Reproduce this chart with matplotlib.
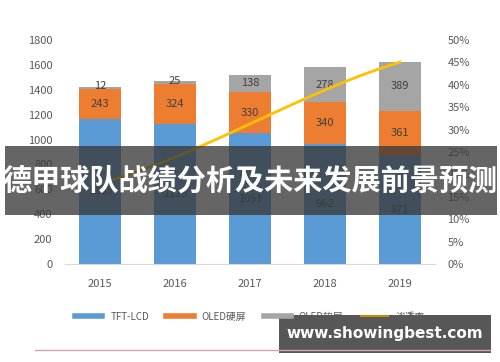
import numpy as np
import matplotlib.pyplot as plt
from matplotlib.lines import Line2D
from matplotlib.patches import Rectangle

plt.rcParams['font.family'] = ['Noto Sans CJK SC', 'DejaVu Sans']

years = ['2015', '2016', '2017', '2018', '2019']
tft_lcd = [1165, 1125, 1051, 962, 871]
oled_rigid = [243, 324, 330, 340, 361]
oled_flex = [12, 25, 138, 278, 389]
penetration = [18, 24, 31, 39, 45]   # %

c_blue, c_orange, c_gray, c_gold = '#5B9BD5', '#ED7D31', '#A5A5A5', '#FFC000'
txt = '#595959'

fig = plt.figure(figsize=(5, 3.62), dpi=100)
ax = fig.add_axes([0.13, 0.2707, 0.74, 0.619])
x = np.arange(len(years))
w = 0.57

ax.bar(x, tft_lcd, w, color=c_blue)
bot2 = np.array(tft_lcd)
ax.bar(x, oled_rigid, w, bottom=bot2, color=c_orange)
bot3 = bot2 + np.array(oled_rigid)
ax.bar(x, oled_flex, w, bottom=bot3, color=c_gray)

for i in range(len(x)):
    ax.text(x[i], tft_lcd[i] / 2, str(tft_lcd[i]), ha='center', va='center', fontsize=8, color='#404040')
    ax.text(x[i], bot2[i] + oled_rigid[i] / 2, str(oled_rigid[i]), ha='center', va='center', fontsize=8, color='#404040')
    ax.text(x[i], bot3[i] + oled_flex[i] / 2 if oled_flex[i] > 60 else bot3[i] + 20,
            str(oled_flex[i]), ha='center', va='center', fontsize=8, color='#404040')

ax.set_xlim(-0.467, 4.467)
ax.set_ylim(0, 1800)
ax.set_yticks(range(0, 1801, 200))
ax.set_xticks(x)
ax.set_xticklabels(years)
for s in ['top', 'right', 'left']:
    ax.spines[s].set_visible(False)
ax.spines['bottom'].set_color('#D9D9D9')
ax.tick_params(length=0, colors=txt, labelsize=8)
ax.tick_params(axis='y', pad=9)
ax.tick_params(axis='x', pad=11)

ax2 = ax.twinx()
xs = np.linspace(0, 4, 200)
# smooth curve through the points
coef = np.polyfit(x, penetration, 3)
ax2.plot(xs, np.polyval(coef, xs), color=c_gold, lw=2)
ax2.set_ylim(0, 50)
ax2.set_yticks(range(0, 51, 5))
ax2.set_yticklabels([f'{v}%' for v in range(0, 51, 5)])
for s in ax2.spines.values():
    s.set_visible(False)
ax2.tick_params(length=0, colors=txt, labelsize=8, pad=9)

fig.add_artist(Line2D([0.07, 0.98], [0.033, 0.033], color='#D4A0B4', lw=1))

# banner overlay
fig.add_artist(Rectangle((0.01, 0.405), 0.984, 0.193, transform=fig.transFigure,
                         color='#3a3a3a', alpha=0.78, lw=0))
fig.text(0.5, 0.5, '德甲球队战绩分析及未来发展前景预测', ha='center', va='center',
         fontsize=21, fontweight='bold', color='white')

fig.add_artist(Rectangle((0.558, 0.025), 0.424, 0.105, transform=fig.transFigure,
                         color='#3a3a3a', alpha=0.85, lw=0))
fig.text(0.77, 0.08, 'www.showingbest.com', ha='center', va='center',
         fontsize=11, fontweight='bold', color='white', family='DejaVu Sans')

handles = [Line2D([], [], color=c_blue, lw=4), Line2D([], [], color=c_orange, lw=4),
           Line2D([], [], color=c_gray, lw=4), Line2D([], [], color='#BF9000', lw=1.5)]
leg = fig.legend(handles, ['TFT-LCD', 'OLED硬屏', 'OLED软屏', '渗透率'], loc='center',
                 bbox_to_anchor=(0.5, 0.125), ncol=4, frameon=False, fontsize=7,
                 labelcolor=txt, handlelength=2.8, columnspacing=1.8)
leg.set_zorder(5)

fig.savefig('out.png', dpi=100)
